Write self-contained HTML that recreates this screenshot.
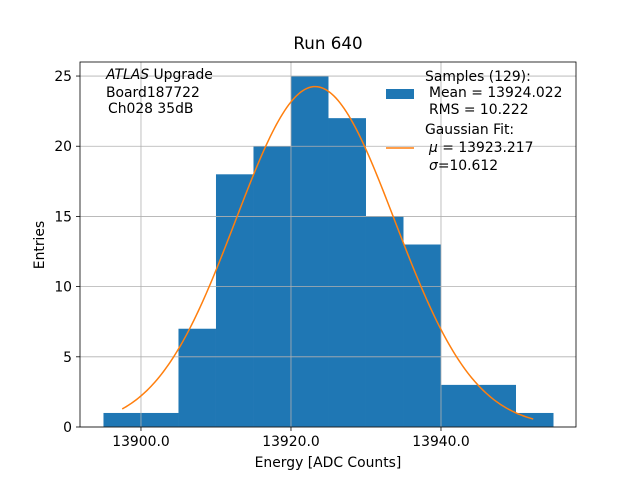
<!DOCTYPE html>
<html><head><meta charset="utf-8"><style>
body{margin:0;background:#fff}
svg text{font-family:"DejaVu Sans","Liberation Sans",sans-serif;fill:#000}
</style></head><body>
<svg id="chart" width="640" height="480" viewBox="0 0 640 480">
<rect width="640" height="480" fill="#fff"/>
<g id="bars"></g>
<g id="grid"></g>
<path id="fit" fill="none" stroke="#ff7f0e" stroke-width="1.5"/>
<rect x="80" y="62" width="496" height="365" fill="none" stroke="#000" stroke-width="0.8"/>
<g id="ticks"></g>
<text x="328" y="49" font-size="16.7" text-anchor="middle">Run 640</text>
<text x="328" y="467" font-size="13.9" text-anchor="middle">Energy [ADC Counts]</text>
<text transform="translate(44,245) rotate(-90)" font-size="13.9" text-anchor="middle">Entries</text>
<g font-size="13.9">
<text x="106" y="79"><tspan font-style="italic">ATLAS</tspan> Upgrade</text>
<text x="106" y="97"> Board187722</text>
<text x="108" y="113">Ch028 35dB</text>
</g>
<g font-size="13.9">
<rect x="386" y="89" width="28" height="10" fill="#1f77b4"/>
<text x="425" y="81">Samples (129):</text>
<text x="429" y="97">Mean = 13924.022</text>
<text x="429" y="114">RMS = 10.222</text>
<line x1="386" y1="148" x2="414" y2="148" stroke="#ff7f0e" stroke-width="1.5"/>
<text x="425" y="134">Gaussian Fit:</text>
<text x="429" y="152"><tspan font-style="italic">μ</tspan> = 13923.217</text>
<text x="429" y="170"><tspan font-style="italic">σ</tspan>=10.612</text>
</g>
</svg>
<script>
const binEdges=[13895,13900,13905,13910,13915,13920,13925,13930,13935,13940,13945,13950,13955];
const counts=[1,1,7,18,20,25,22,15,13,3,3,1];
const xTicks=[13900,13920,13940];
const xTickLabels=["13900.0","13920.0","13940.0"];
const yTicks=[0,5,10,15,20,25];
const fitMu=13923.217, fitSigma=10.612, fitN=129, fitBin=5;
const fitRange=[13897.5,13952.3];
const NS="http://www.w3.org/2000/svg";
const X0=80,X1=576,Y0=427,Y1=62, xmin=13891.87,xmax=13958.0,ymin=0,ymax=26;
const sx=v=>X0+(v-xmin)/(xmax-xmin)*(X1-X0);
const sy=v=>Y0-(v-ymin)/(ymax-ymin)*(Y0-Y1);
function mk(t,a,p){const e=document.createElementNS(NS,t);for(const k in a)e.setAttribute(k,a[k]);p.appendChild(e);return e;}
const grid=document.getElementById('grid'),bars=document.getElementById('bars'),ticks=document.getElementById('ticks');
xTicks.forEach((v,i)=>{
 const g=mk('line',{x1:sx(v),x2:sx(v),y1:Y1,y2:Y0,stroke:'#b0b0b0','stroke-width':0.8},grid);
 
 
 const t=mk('line',{x1:sx(v),x2:sx(v),y1:Y0,y2:Y0+4,stroke:'#000','stroke-width':0.8},ticks);
 
 
 const l=mk('text',{x:sx(v),y:Y0+19,'font-size':13.9,'text-anchor':'middle'},ticks);
 l.textContent=xTickLabels[i];
 
 
});
yTicks.forEach(v=>{
 const g=mk('line',{x1:X0,x2:X1,y1:sy(v),y2:sy(v),stroke:'#b0b0b0','stroke-width':0.8},grid);
 
 
 const t=mk('line',{x1:X0-4,x2:X0,y1:sy(v),y2:sy(v),stroke:'#000','stroke-width':0.8},ticks);
 
 
 const l=mk('text',{x:X0-8,y:sy(v)+5,'font-size':13.9,'text-anchor':'end'},ticks);
 l.textContent=v;
 
 
});
counts.forEach((c,i)=>{
 const r=mk('rect',{x:sx(binEdges[i]),y:sy(c),width:sx(binEdges[i+1])-sx(binEdges[i]),height:sy(0)-sy(c),fill:'#1f77b4'},bars);
 
 
});
const amp=fitN*fitBin/(Math.sqrt(2*Math.PI)*fitSigma);
let d='';
for(let k=0;k<=200;k++){const v=fitRange[0]+(fitRange[1]-fitRange[0])*k/200;
 const y=amp*Math.exp(-0.5*((v-fitMu)/fitSigma)**2);
 d+=(k?'L':'M')+sx(v).toFixed(2)+' '+sy(y).toFixed(2);}
document.getElementById('fit').setAttribute('d',d);
</script>
</body></html>
